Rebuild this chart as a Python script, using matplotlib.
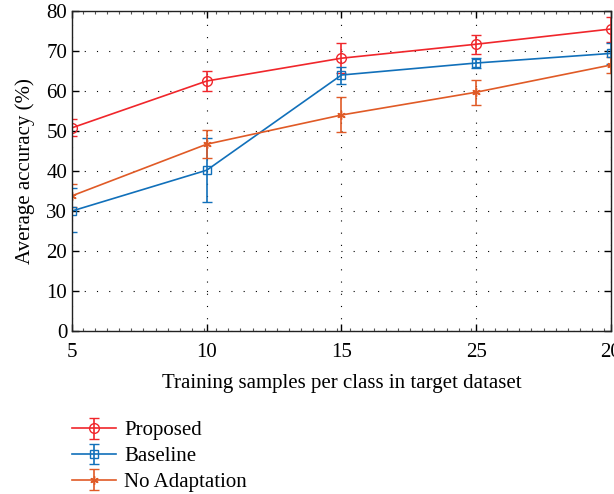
import matplotlib.pyplot as plt
from matplotlib.ticker import MultipleLocator

# dados
categorias = ['5', '10', '15', '25', '20']
proposto = [50.8, 62.5, 68.2, 71.7, 75.5]
proposto_inf = [48.8, 60.0, 64.5, 69.2, 72.3]
proposto_sup = [53.0, 65.0, 72.0, 74.0, 78.5]

baseline = [30.0, 40.2, 64.0, 67.0, 69.4]
baseline_inf = [24.8, 32.3, 61.7, 65.7, 66.7]
baseline_sup = [35.7, 48.2, 66.0, 68.3, 72.0]

sem_adapt = [33.8, 46.7, 54.0, 59.7, 66.5]
sem_adapt_inf = [31.0, 43.2, 49.8, 56.5, 64.5]
sem_adapt_sup = [36.8, 50.3, 58.5, 62.8, 68.5]

plt.rcParams['font.family'] = ['Liberation Serif', 'DejaVu Serif']

fig = plt.figure(figsize=(6.14, 4.94), dpi=100)
ax = fig.add_axes([0.1173, 0.33, 0.8777, 0.6477])

x = list(range(1, len(categorias) + 1))


def erros(vals, inf, sup):
    return [[v - a for v, a in zip(vals, inf)], [b - v for v, b in zip(vals, sup)]]


ax.errorbar(x, proposto, yerr=erros(proposto, proposto_inf, proposto_sup),
            color='#F0262B', marker='o', markersize=7, mfc='none', mew=1.0,
            lw=1.2, capsize=3.5, elinewidth=1.2, label='Proposed')
ax.errorbar(x, baseline, yerr=erros(baseline, baseline_inf, baseline_sup),
            color='#1170BA', marker='s', markersize=5.5, mfc='none', mew=1.0,
            lw=1.2, capsize=3.5, elinewidth=1.2, label='Baseline')
ax.errorbar(x, sem_adapt, yerr=erros(sem_adapt, sem_adapt_inf, sem_adapt_sup),
            color='#E05A26', marker=(6, 2, 0), markersize=6, mew=1.0,
            lw=1.2, capsize=3.5, elinewidth=1.2, label='No Adaptation')

ax.set_xlim(1, 5)
ax.set_ylim(0, 80)
ax.set_xticks(x)
ax.set_xticklabels(categorias)
ax.set_yticks(range(0, 81, 10))
ax.xaxis.set_minor_locator(MultipleLocator(0.09))
ax.tick_params(which='both', direction='in', top=True, right=True, labelsize=15)
ax.tick_params(which='major', length=5, width=1.0)
ax.tick_params(axis='x', which='major', pad=9)
ax.tick_params(which='minor', length=2.5, width=0.8, colors='#555555')
ax.grid(True, which='major', linestyle=(0, (1, 10)), color='black', lw=0.8)

for s in ax.spines.values():
    s.set_linewidth(1.0)
    s.set_color('#222222')

ax.set_xlabel('Training samples per class in target dataset', fontsize=15, labelpad=8)
ax.set_ylabel('Average accuracy (%)', fontsize=15, labelpad=8)

fig.legend(loc='upper left', bbox_to_anchor=(0.087, 0.186), frameon=False,
           fontsize=15, handlelength=2.1, labelspacing=0.3, handletextpad=0.4)

plt.savefig('out.png', dpi=100)
